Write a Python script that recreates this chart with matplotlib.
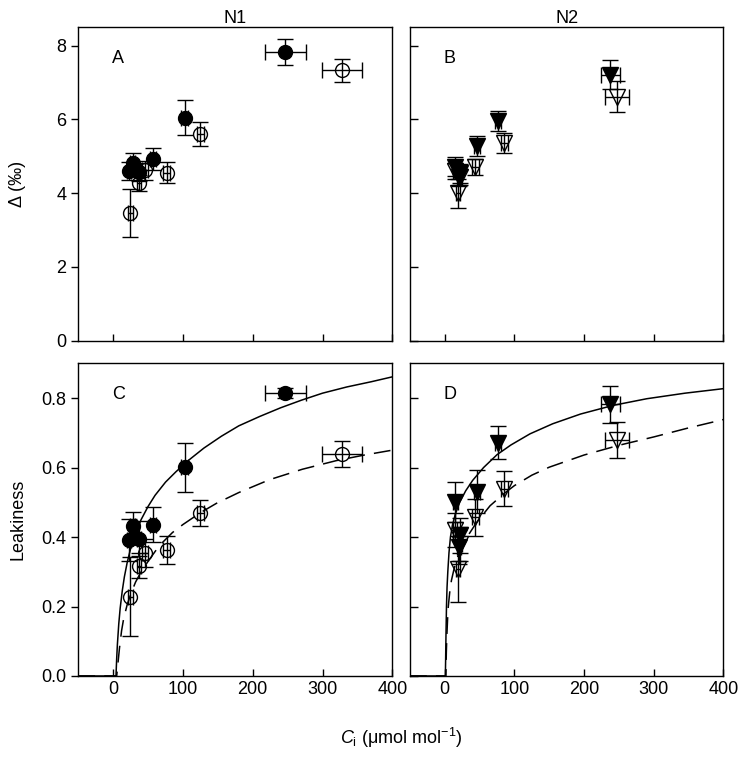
import matplotlib
matplotlib.use("Agg")
import matplotlib.pyplot as plt

plt.rcParams['font.family'] = ['Liberation Sans', 'DejaVu Sans']
plt.rcParams['mathtext.fontset'] = 'custom'
plt.rcParams['mathtext.rm'] = 'Liberation Sans'
plt.rcParams['mathtext.it'] = 'Liberation Sans:italic'

# ---- N1 (circles) ----
ci_n1_f = [246.7, 102.4, 57.2, 27.7, 22.9, 37.2]
ci_n1_f_err = [29, 5, 4, 3, 3, 3]
delta_n1_f = [7.83, 6.05, 4.92, 4.81, 4.60, 4.57]
delta_n1_f_err = [0.34, 0.48, 0.30, 0.27, 0.25, 0.25]
leak_n1_f = [0.814, 0.601, 0.435, 0.431, 0.392, 0.395]
leak_n1_f_err = [0.015, 0.07, 0.05, 0.042, 0.06, 0.05]

ci_n1_o = [327.7, 124.8, 77.1, 45.3, 36.7, 24.8]
ci_n1_o_err = [28.6, 5, 5, 4, 3, 3]
delta_n1_o = [7.33, 5.60, 4.56, 4.62, 4.27, 3.46]
delta_n1_o_err = [0.32, 0.33, 0.29, 0.25, 0.22, 0.66]
leak_n1_o = [0.639, 0.470, 0.362, 0.355, 0.318, 0.228]
leak_n1_o_err = [0.037, 0.037, 0.04, 0.04, 0.035, 0.114]

# ---- N2 (triangles) ----
ci_n2_f = [237.7, 76.2, 46.3, 15.3, 22.4, 20.0]
ci_n2_f_err = [14, 4, 4, 3, 3, 3]
delta_n2_f = [7.21, 5.96, 5.27, 4.72, 4.54, 4.45]
delta_n2_f_err = [0.39, 0.26, 0.27, 0.25, 0.25, 0.25]
leak_n2_f = [0.782, 0.672, 0.531, 0.500, 0.405, 0.371]
leak_n2_f_err = [0.054, 0.048, 0.062, 0.057, 0.05, 0.05]

ci_n2_o = [247.0, 85.3, 43.8, 18.6, 22.0, 15.0]
ci_n2_o_err = [17, 5, 5, 3, 3, 3]
delta_n2_o = [6.62, 5.36, 4.72, 4.00, 4.45, 4.60]
delta_n2_o_err = [0.41, 0.26, 0.22, 0.39, 0.22, 0.22]
leak_n2_o = [0.679, 0.539, 0.457, 0.309, 0.38, 0.42]
leak_n2_o_err = [0.053, 0.05, 0.053, 0.095, 0.05, 0.05]

# ---- fitted curves ----
curve_c_solid_x = [-50, 4, 5, 6, 8, 10, 13, 16, 20, 25, 30, 40, 50, 60, 75, 90, 110, 130,
                   155, 180, 210, 240, 270, 300, 335, 370, 400]
curve_c_solid_y = [0, 0, 0.05, 0.09, 0.15, 0.195, 0.245, 0.285, 0.326, 0.367, 0.401, 0.45,
                   0.488, 0.52, 0.558, 0.588, 0.624, 0.656, 0.69, 0.72, 0.747, 0.772, 0.794,
                   0.814, 0.832, 0.847, 0.861]
curve_c_dash_x = [-50, 5, 7, 9, 12, 15, 20, 26, 32, 40, 50, 66, 85, 100, 125, 148, 180, 224,
                  271, 320, 360, 400]
curve_c_dash_y = [0, 0, 0.04, 0.08, 0.13, 0.165, 0.205, 0.24, 0.27, 0.30, 0.33, 0.375, 0.413,
                  0.436, 0.47, 0.497, 0.528, 0.565, 0.595, 0.62, 0.636, 0.650]
curve_d_solid_x = [-50, 0.8, 1.2, 1.7, 2.4, 3.2, 4.3, 6, 8.1, 11, 15, 21.4, 30, 40, 55.7, 75,
                   95, 122.4, 155, 195, 242, 290, 345, 400]
curve_d_solid_y = [0, 0, 0.05, 0.12, 0.2, 0.255, 0.3, 0.355, 0.40, 0.435, 0.465, 0.50, 0.533,
                   0.563, 0.60, 0.637, 0.665, 0.697, 0.726, 0.754, 0.779, 0.798, 0.814, 0.827]
curve_d_dash_x = [-50, 1.5, 2.2, 3, 4, 5, 7, 9.5, 12.9, 17, 23, 32, 45, 65, 85, 100, 125, 150,
                  200, 250, 300, 350, 400]
curve_d_dash_y = [0, 0, 0.07, 0.12, 0.165, 0.2, 0.24, 0.275, 0.305, 0.335, 0.368, 0.40, 0.44,
                  0.49, 0.525, 0.548, 0.578, 0.601, 0.636, 0.664, 0.688, 0.714, 0.738]

x_ticks = [0, 100, 200, 300, 400]
delta_ticks = [0, 2, 4, 6, 8]
leak_ticks = [0.0, 0.2, 0.4, 0.6, 0.8]
leak_tick_labels = ['0.0', '0.2', '0.4', '0.6', '0.8']

W, H = 742, 758
fig = plt.figure(figsize=(W / 100, H / 100), dpi=100)

def pos(l, r, t, b):
    return [l / W, 1 - b / H, (r - l) / W, (b - t) / H]

axA = fig.add_axes(pos(78.3, 392.3, 27.3, 340.7))
axB = fig.add_axes(pos(410, 723.3, 27.3, 340.7))
axC = fig.add_axes(pos(78.3, 392.3, 363.3, 676))
axD = fig.add_axes(pos(410, 723.3, 363.3, 676))

ebkw = dict(ecolor='k', elinewidth=1.0, capsize=6, capthick=1.0, linestyle='none', zorder=3)

def plot_pts(ax, x, xe, y, ye, marker, filled):
    ax.errorbar(x, y, xerr=xe, yerr=ye, fmt=marker, ms=10 if marker == 'o' else 11.5,
                mfc='k' if filled else 'none', mec='k', mew=1.0, **ebkw)

plot_pts(axA, ci_n1_o, ci_n1_o_err, delta_n1_o, delta_n1_o_err, 'o', False)
plot_pts(axA, ci_n1_f, ci_n1_f_err, delta_n1_f, delta_n1_f_err, 'o', True)
plot_pts(axB, ci_n2_o, ci_n2_o_err, delta_n2_o, delta_n2_o_err, 'v', False)
plot_pts(axB, ci_n2_f, ci_n2_f_err, delta_n2_f, delta_n2_f_err, 'v', True)
plot_pts(axC, ci_n1_o, ci_n1_o_err, leak_n1_o, leak_n1_o_err, 'o', False)
plot_pts(axC, ci_n1_f, ci_n1_f_err, leak_n1_f, leak_n1_f_err, 'o', True)
plot_pts(axD, ci_n2_o, ci_n2_o_err, leak_n2_o, leak_n2_o_err, 'v', False)
plot_pts(axD, ci_n2_f, ci_n2_f_err, leak_n2_f, leak_n2_f_err, 'v', True)

dash = (0, (11, 6))
axC.plot(curve_c_solid_x, curve_c_solid_y, color='k', lw=1.1, zorder=2)
axC.plot(curve_c_dash_x, curve_c_dash_y, color='k', lw=1.1, ls=dash, zorder=2)
axD.plot(curve_d_solid_x, curve_d_solid_y, color='k', lw=1.1, zorder=2)
axD.plot(curve_d_dash_x, curve_d_dash_y, color='k', lw=1.1, ls=dash, zorder=2)

fs = 13
for ax in (axA, axB, axC, axD):
    ax.set_xlim(-50, 400)
    ax.set_xticks(x_ticks)
    for s in ax.spines.values():
        s.set_linewidth(1.0)
    ax.tick_params(axis='x', direction='in', length=5, width=1, labelsize=fs)
for ax in (axA, axB):
    ax.set_ylim(0, 8.5)
    ax.set_yticks(delta_ticks)
    ax.tick_params(axis='x', labelbottom=False)
for ax in (axC, axD):
    ax.set_ylim(0, 0.9)
    ax.set_yticks(leak_ticks)
axA.tick_params(axis='y', direction='out', length=5, width=1, labelsize=fs)
axC.tick_params(axis='y', direction='out', length=5, width=1, labelsize=fs)
axC.set_yticklabels(leak_tick_labels)
for ax in (axB, axD):
    ax.tick_params(axis='y', direction='in', length=6, width=1, labelleft=False)

for ax, lab in ((axA, 'A'), (axB, 'B'), (axC, 'C'), (axD, 'D')):
    ax.text(0.127, 0.899, lab, transform=ax.transAxes, fontsize=fs, ha='center', va='center')

axA.set_title('N1', fontsize=fs, pad=2)
axB.set_title('N2', fontsize=fs, pad=2)
axA.set_ylabel('Δ (‰)', fontsize=fs)
axC.set_ylabel('Leakiness', fontsize=fs)
axA.yaxis.set_label_coords(-0.165, 0.5)
axC.yaxis.set_label_coords(-0.165, 0.5)
fig.text(401 / W, 1 - 738 / H, r'$\mathit{C}_{\mathrm{i}}$ (μmol mol$^{-1}$)', fontsize=fs,
         ha='center', va='center')

fig.savefig('out.png', dpi=100)
